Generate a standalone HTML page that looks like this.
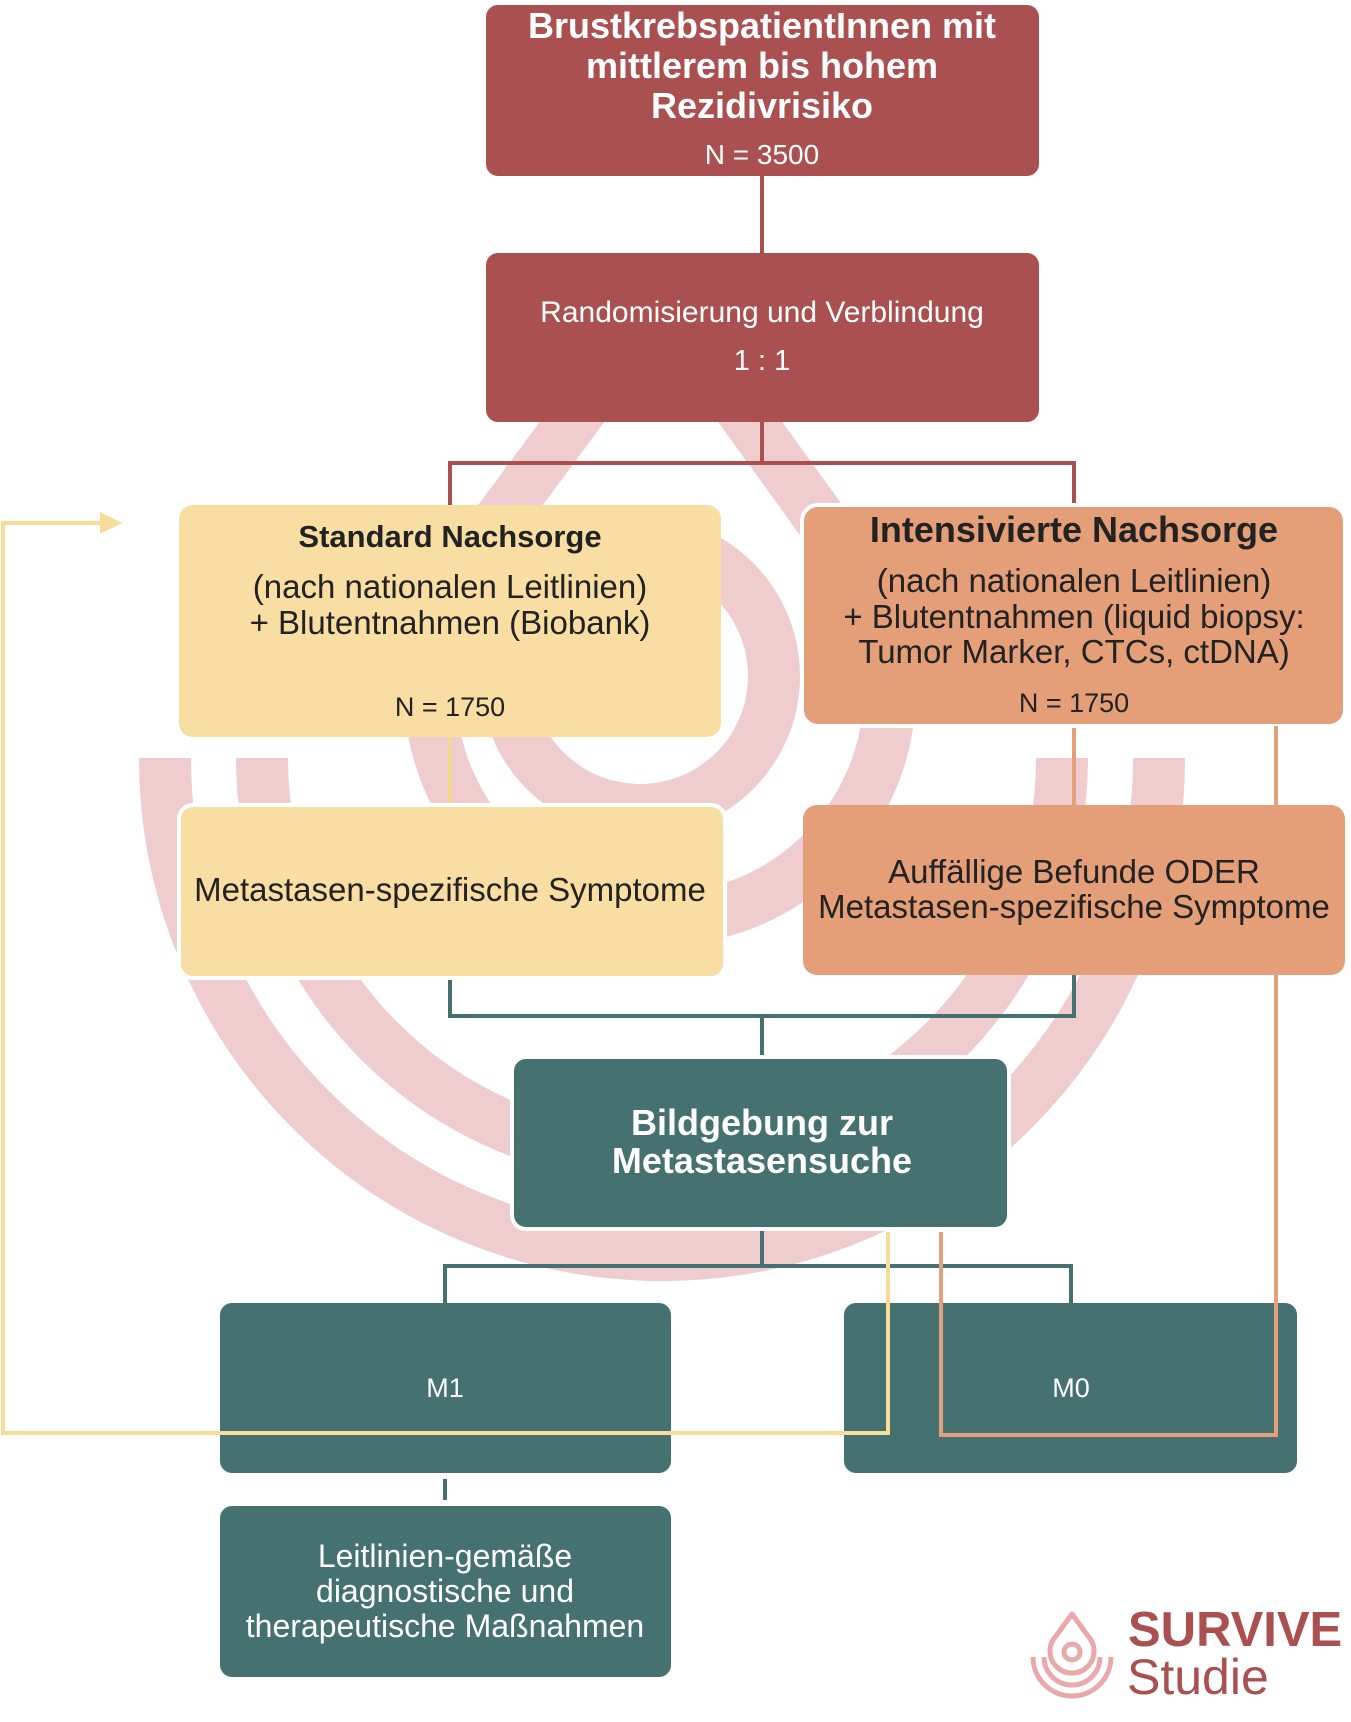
<!DOCTYPE html>
<html><head><meta charset="utf-8"><style>
html,body{margin:0;padding:0;background:#fff;}
svg{display:block;}
text{font-family:"Liberation Sans",Arial,sans-serif;text-anchor:middle;}
</style></head><body>
<svg width="1351" height="1722" viewBox="0 0 1351 1722" xmlns="http://www.w3.org/2000/svg">
<g fill="none" stroke="#efcdcf" stroke-width="52">
  <path d="M165 758 A497 497 0 0 0 1159 758"/>
  <path d="M262 758 A400 400 0 0 0 1062 758"/>
  <path d="M662 300 L470 560 A230 230 0 1 0 850 560 Z" stroke-linejoin="round"/>
  <circle cx="640" cy="676" r="134"/>
</g>
<g fill="none" stroke-width="4">
  <path d="M762 176 V253 M762 422 V463 M450 463 H1074 M450 461 V505 M1074 461 V505" stroke="#ab5050"/>
  <path d="M450 737 V805" stroke="#f5d894"/>
  <path d="M1074 726 V805" stroke="#e4a07a"/>
  <path d="M450 978 V1016 H1074 V975 M762 1016 V1057" stroke="#457170"/>
  <path d="M762 1229 V1266 M445 1303 V1266 H1071 V1303 M445 1479 V1500" stroke="#457170"/>
</g>
<rect x="486" y="5" width="553" height="171" rx="12" fill="#ab5050"/>
<rect x="486" y="253" width="553" height="169" rx="12" fill="#ab5050"/>
<rect x="179" y="505" width="542" height="232" rx="14" fill="#f8dea2"/>
<rect x="802" y="505" width="543" height="221" rx="16" fill="#e49e78" stroke="#fff" stroke-width="4"/>
<rect x="179" y="805" width="546" height="173" rx="14" fill="#f8dea2" stroke="#fff" stroke-width="4"/>
<rect x="803" y="805" width="542" height="170" rx="14" fill="#e49e78"/>
<rect x="512" y="1057" width="497" height="172" rx="14" fill="#457170" stroke="#fff" stroke-width="4"/>
<rect x="220" y="1303" width="451" height="170" rx="12" fill="#457170"/>
<rect x="844" y="1303" width="453" height="170" rx="12" fill="#457170"/>
<rect x="220" y="1506" width="451" height="171" rx="12" fill="#457170"/>
<g fill="none" stroke-width="4">
  <path d="M888 1232 V1433 H3 V523 H108" stroke="#f7dc9a"/>
  <path d="M941 1232 V1435 H1276 V726" stroke="#e4a07a"/>
</g>
<polygon points="100,512 122,523 100,534" fill="#f7dc9a"/>
<g fill="#fff" font-weight="bold" font-size="36">
  <text x="762" y="38">BrustkrebspatientInnen mit</text>
  <text x="762" y="78">mittlerem bis hohem</text>
  <text x="762" y="118">Rezidivrisiko</text>
</g>
<text x="762" y="164" fill="#fff" font-size="28">N = 3500</text>
<text x="762" y="322" fill="#fff" font-size="30">Randomisierung und Verblindung</text>
<text x="762" y="370" fill="#fff" font-size="29">1 : 1</text>
<text x="450" y="547" fill="#222" font-size="31" font-weight="bold">Standard Nachsorge</text>
<text x="450" y="598" fill="#222" font-size="33">(nach nationalen Leitlinien)</text>
<text x="450" y="634" fill="#222" font-size="33">+ Blutentnahmen (Biobank)</text>
<text x="450" y="716" fill="#222" font-size="27">N = 1750</text>
<text x="1074" y="542" fill="#222" font-size="36" font-weight="bold">Intensivierte Nachsorge</text>
<text x="1074" y="592" fill="#222" font-size="33">(nach nationalen Leitlinien)</text>
<text x="1074" y="628" fill="#222" font-size="33">+ Blutentnahmen (liquid biopsy:</text>
<text x="1074" y="663" fill="#222" font-size="33">Tumor Marker, CTCs, ctDNA)</text>
<text x="1074" y="712" fill="#222" font-size="27">N = 1750</text>
<text x="450" y="901" fill="#222" font-size="33">Metastasen-spezifische Symptome</text>
<text x="1074" y="883" fill="#222" font-size="33">Auffällige Befunde ODER</text>
<text x="1074" y="918" fill="#222" font-size="33">Metastasen-spezifische Symptome</text>
<text x="762" y="1135" fill="#fff" font-size="36" font-weight="bold">Bildgebung zur</text>
<text x="762" y="1173" fill="#fff" font-size="36" font-weight="bold">Metastasensuche</text>
<text x="445" y="1397" fill="#fff" font-size="27">M1</text>
<text x="1071" y="1397" fill="#fff" font-size="27">M0</text>
<text x="445" y="1567" fill="#fff" font-size="32">Leitlinien-gemäße</text>
<text x="445" y="1602" fill="#fff" font-size="32">diagnostische und</text>
<text x="445" y="1637" fill="#fff" font-size="32">therapeutische Maßnahmen</text>
<g fill="none" stroke="#e8a9a8" stroke-width="5">
  <path d="M1072 1614 L1056 1636 A22 22 0 1 0 1088 1636 Z" stroke-linejoin="round"/>
  <circle cx="1072" cy="1652" r="8"/>
  <path d="M1044 1657 A28 28 0 0 0 1100 1657"/>
  <path d="M1033 1657 A39 39 0 0 0 1111 1657"/>
</g>
<text x="1128" y="1646" fill="#ab5050" font-size="49" font-weight="bold" style="text-anchor:start">SURVIVE</text>
<text x="1127" y="1694" fill="#ab5050" font-size="50" style="text-anchor:start">Studie</text>
</svg>
</body></html>
